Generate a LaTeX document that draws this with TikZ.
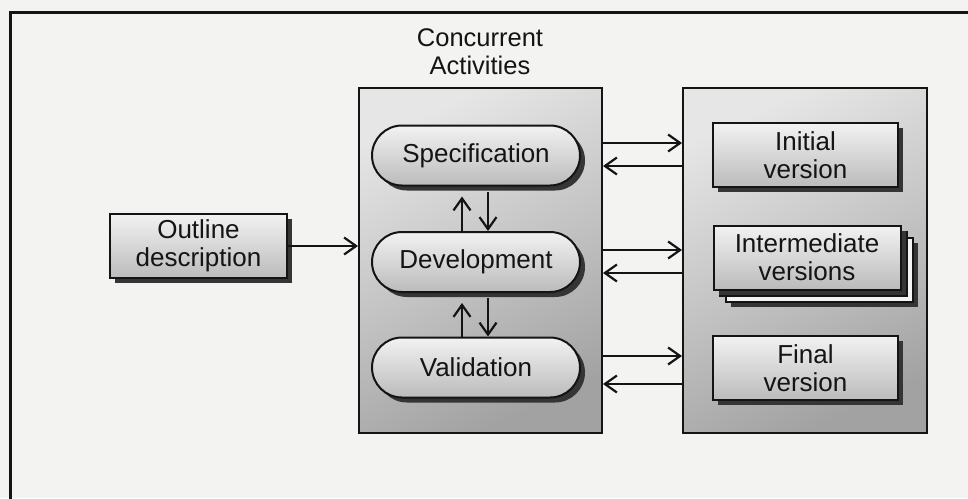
\documentclass[tikz,border=0pt]{standalone}
\usepackage{fontspec}
\setmainfont{Liberation Sans}
\usetikzlibrary{arrows.meta,shadows}

\definecolor{paper}{HTML}{F3F3F2}
\definecolor{panelTop}{HTML}{E6E6E6}
\definecolor{panelBot}{HTML}{A2A2A2}
\definecolor{itemTop}{HTML}{F2F2F2}
\definecolor{itemBot}{HTML}{BBBBBB}
\definecolor{sheetfill}{HTML}{F4F4F4}
\definecolor{shadowcol}{HTML}{353535}
\definecolor{ink}{HTML}{141414}

\begin{document}
\begin{tikzpicture}[x=1pt,y=-1pt,
  panel/.style={draw=ink, line width=2pt, top color=panelTop, bottom color=panelBot,
    shading angle=25, inner sep=0pt},
  itemshade/.style={draw=ink, line width=2pt, top color=itemTop, bottom color=itemBot,
    drop shadow={shadow xshift=5pt, shadow yshift=-5pt, fill=shadowcol, opacity=1}},
  capsule/.style={itemshade, rounded corners=30pt, minimum width=208pt, minimum height=60pt,
    inner sep=0pt, text=ink, font=\fontsize{26}{29}\selectfont},
  docbox/.style={itemshade, minimum width=185pt, minimum height=64pt, inner sep=0pt,
    align=center, text=ink, font=\fontsize{26}{28}\selectfont},
  sheet/.style={draw=ink, line width=2pt, fill=sheetfill, minimum width=187pt,
    minimum height=64pt, inner sep=0pt},
  flow/.style={draw=ink, line width=2.2pt, -{Straight Barb[length=12pt, width=17pt, line width=2.2pt]}},
]
\useasboundingbox (0,0) rectangle (968,498);
\clip (0,0) rectangle (968,498);
\fill[paper] (0,0) rectangle (968,498);

% page frame
\draw[ink, line width=3pt] (10,510) -- (10,12) -- (980,12);

% the two panels
\node[panel, minimum width=243pt, minimum height=345pt] (ca) at (480.5,260.5) {};
\node[panel, minimum width=244pt, minimum height=345pt] (rb) at (805,260.5) {};

\node[align=center, inner sep=0pt, text=ink, font=\fontsize{25.5}{28}\selectfont]
  (cat) at (480,52) {Concurrent\\Activities};

% activities
\node[capsule] (spec) at (476,155.5) {Specification};
\node[capsule] (dev) at (476,262) {Development};
\node[capsule] (val) at (476,367.5) {Validation};

% outline description
\node[docbox, minimum width=177pt] (ol) at (198.5,246) {Outline\\description};

% versions
\node[docbox] (iv) at (805.5,155) {Initial\\version};
\node[sheet, drop shadow={shadow xshift=5pt, shadow yshift=-5pt, fill=shadowcol, opacity=1}]
  (im3) at (819,269.5) {};
\node[sheet] (im2) at (813,263.5) {};
\node[docbox, minimum width=187pt,
  drop shadow={shadow xshift=0pt, shadow yshift=0pt, opacity=0}] (im) at (807,257.5)
  {Intermediate\\versions};
\node[docbox] (fv) at (805.5,368) {Final\\version};

% input to the activities
\draw[flow] (ol.east) -- (ol.east -| ca.west);

% between the activities
\draw[flow, shorten >=10pt] (dev.north -| 462,0) -- (spec.south -| 462,0);
\draw[flow, shorten <=5pt] (spec.south -| 488,0) -- (dev.north -| 488,0);
\draw[flow, shorten >=10pt] (val.north -| 462,0) -- (dev.south -| 462,0);
\draw[flow, shorten <=5pt] (dev.south -| 488,0) -- (val.north -| 488,0);

% exchanges with the versions
\draw[flow] (ca.east |- 0,143) -- (rb.west |- 0,143);
\draw[flow] (rb.west |- 0,166) -- (ca.east |- 0,166);
\draw[flow] (ca.east |- 0,250) -- (rb.west |- 0,250);
\draw[flow] (rb.west |- 0,273) -- (ca.east |- 0,273);
\draw[flow] (ca.east |- 0,356) -- (rb.west |- 0,356);
\draw[flow] (rb.west |- 0,384) -- (ca.east |- 0,384);
\end{tikzpicture}
\end{document}
